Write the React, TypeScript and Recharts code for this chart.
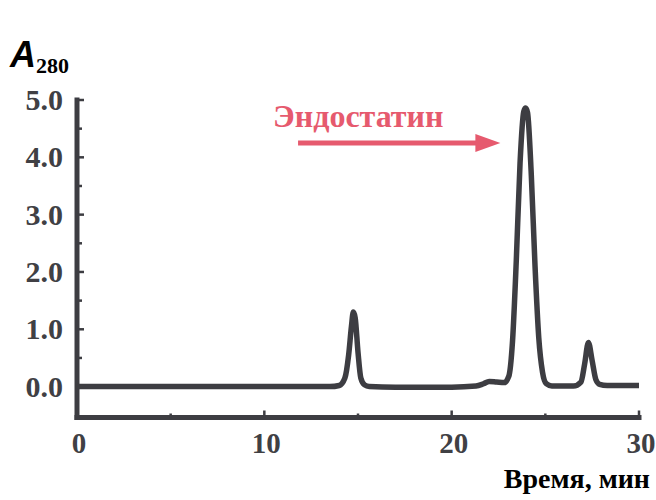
import React from "react";
import {
  LineChart,
  Line,
  XAxis,
  YAxis,
  ReferenceLine,
} from "recharts";

// elution profile, minutes vs A280
const TIMES = [
  0, 5, 10, 13.5, 14.0, 14.3, 14.5, 14.65, 14.75, 14.85, 15.0, 15.15, 15.35, 15.6,
  17, 20, 21.3, 21.7, 22.0, 22.4, 22.8, 23.05, 23.25, 23.45, 23.65, 23.85, 23.95,
  24.05, 24.25, 24.45, 24.65, 24.85, 25.05, 25.35, 26.5, 26.9, 27.1, 27.3, 27.5,
  27.7, 27.9, 28.3, 30,
];
const A280 = [
  0, 0, 0, 0, 0.02, 0.15, 0.55, 1.05, 1.3, 1.2, 0.6, 0.15, 0.03, 0,
  -0.01, -0.01, 0.01, 0.05, 0.09, 0.08, 0.07, 0.18, 0.8, 2.2, 3.9, 4.8, 4.86,
  4.78, 3.7, 2.1, 0.85, 0.25, 0.05, 0.01, 0.01, 0.08, 0.4, 0.77, 0.45,
  0.12, 0.04, 0.02, 0.02,
];

const X_TICKS = [0, 5, 10, 15, 20, 25, 30];
const X_LABELED = [0, 10, 20, 30];
const Y_TICKS = [0, 0.5, 1, 1.5, 2, 2.5, 3, 3.5, 4, 4.5, 5];
// frame corners
const X_MIN = 0;
const X_MAX = 30;
const Y_MIN = -0.54;
const Y_MAX = 5.0;
// a little slack so the heavy frame isn't cut at the plot edge
const X_DOMAIN = [-0.16, 30];
const Y_DOMAIN = [-0.6, 5.0];

const PEAK_LABEL = "Эндостатин";
const ARROW_FROM = { x: 11.8, y: 4.25 };
const ARROW_TO = { x: 22.6, y: 4.25 };

const data = TIMES.map((t, i) => ({ t, a: A280[i] }));

const INK = "#3d3d42";
const PINK = "#e65a6e";
const SERIF = "'Liberation Serif', 'Times New Roman', serif";

function YTick(props: any) {
  const { x, y, payload } = props;
  const v = payload.value as number;
  const major = Number.isInteger(v);
  const ax = x + 3;
  return (
    <g>
      <line x1={ax} x2={ax + (major ? 7 : 5)} y1={y} y2={y} stroke={INK} strokeWidth={2.5} />
      {major && (
        <text
          x={ax - 14}
          y={y + 10}
          textAnchor="end"
          fontFamily={SERIF}
          fontWeight="bold"
          fontSize={30}
          fill="#404044"
        >
          {v.toFixed(1)}
        </text>
      )}
    </g>
  );
}

function XTick(props: any) {
  const { x, y, payload } = props;
  const v = payload.value as number;
  const labeled = X_LABELED.includes(v);
  const ay = y - 3.5;
  return (
    <g>
      <line x1={x} x2={x} y1={ay} y2={ay - (labeled ? 7 : 4)} stroke={INK} strokeWidth={2.5} />
      {labeled && (
        <text
          x={x + 2}
          y={ay + 35}
          textAnchor="middle"
          fontFamily={SERIF}
          fontWeight="bold"
          fontSize={29}
          fill="#404044"
        >
          {v}
        </text>
      )}
    </g>
  );
}

// heavy axis stroke
function FrameLine(props: any) {
  const { x1, y1, x2, y2 } = props;
  return (
    <line
      x1={x1}
      y1={y1}
      x2={x2}
      y2={y2}
      stroke={INK}
      strokeWidth={5}
      strokeLinecap="square"
    />
  );
}

// arrow with the peak name above it
function PeakArrow(props: any) {
  const { x1, y1, x2 } = props;
  const headLen = 25;
  return (
    <g>
      <text
        x={x1 - 25}
        y={y1 - 16}
        fontFamily={SERIF}
        fontWeight="bold"
        fontSize={32}
        fill={PINK}
      >
        {PEAK_LABEL}
      </text>
      <line x1={x1} x2={x2 - headLen + 2} y1={y1} y2={y1} stroke={PINK} strokeWidth={5} />
      <polygon
        points={`${x2 - headLen},${y1 - 9} ${x2},${y1} ${x2 - headLen},${y1 + 9}`}
        fill={PINK}
      />
    </g>
  );
}

export default function App() {
  return (
    <div style={{ position: "absolute", left: 0, top: 0, width: 656, height: 500, background: "#fff" }}>
      <LineChart
        width={656}
        height={500}
        data={data}
        margin={{ top: 100, right: 17, bottom: 0, left: 0 }}
      >
        <XAxis
          dataKey="t"
          type="number"
          domain={X_DOMAIN}
          ticks={X_TICKS}
          height={79}
          tickSize={0}
          tickMargin={0}
          tickLine={false}
          axisLine={false}
          tick={<XTick />}
          interval={0}
          allowDataOverflow
        />
        <YAxis
          type="number"
          domain={Y_DOMAIN}
          ticks={Y_TICKS}
          width={74}
          tickSize={0}
          tickMargin={0}
          tickLine={false}
          axisLine={false}
          tick={<YTick />}
          interval={0}
          allowDataOverflow
        />
        <ReferenceLine
          segment={[{ x: X_MIN, y: Y_MIN }, { x: X_MIN, y: Y_MAX }]}
          ifOverflow="visible"
          shape={(p: any) => <FrameLine {...p} />}
        />
        <ReferenceLine
          segment={[{ x: X_MIN, y: Y_MIN }, { x: X_MAX, y: Y_MIN }]}
          ifOverflow="visible"
          shape={(p: any) => <FrameLine {...p} />}
        />
        <ReferenceLine
          segment={[ARROW_FROM, ARROW_TO]}
          ifOverflow="visible"
          shape={(p: any) => <PeakArrow {...p} />}
        />
        <Line
          type="monotone"
          dataKey="a"
          stroke={INK}
          strokeWidth={5.5}
          dot={false}
          isAnimationActive={false}
        />
      </LineChart>
      <div
        style={{
          position: "absolute",
          left: 10,
          top: 37,
          fontFamily: "'Liberation Sans', Arial, sans-serif",
          fontStyle: "italic",
          fontWeight: "bold",
          fontSize: 36,
          color: "#000",
          lineHeight: 1,
          whiteSpace: "nowrap",
        }}
      >
        A
        <span
          style={{
            fontFamily: SERIF,
            fontStyle: "normal",
            fontSize: 22,
            position: "relative",
            top: 6,
          }}
        >
          280
        </span>
      </div>
      <div
        style={{
          position: "absolute",
          right: 6,
          top: 465,
          fontFamily: SERIF,
          fontWeight: "bold",
          fontSize: 28,
          color: "#000",
          lineHeight: 1,
          whiteSpace: "nowrap",
        }}
      >
        Время, мин
      </div>
    </div>
  );
}
